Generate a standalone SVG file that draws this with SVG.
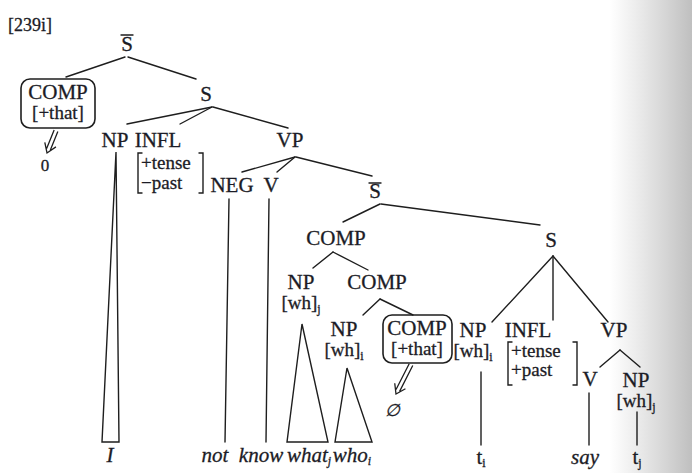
<svg xmlns="http://www.w3.org/2000/svg" width="692" height="473" viewBox="0 0 692 473" font-family="Liberation Serif, serif">
<defs>
<linearGradient id="scan" x1="0" y1="0" x2="1" y2="0">
<stop offset="0" stop-color="#c0c0c0" stop-opacity="0"/>
<stop offset="1" stop-color="#b8b8b8" stop-opacity="0.9"/>
</linearGradient>
<style>
text{font-family:'Liberation Serif',serif}
.t{font-size:21px;fill:#1c1c26;text-anchor:middle;stroke:#1c1c26;stroke-width:0.3}
.f{font-size:19px;text-anchor:start}
.w{font-size:19px}
.i{font-style:italic}
.sub{font-size:12px}
.ln{stroke:#1e1e1e;stroke-width:1.4;fill:none;stroke-linecap:round}
.box{fill:none;stroke:#1e1e1e;stroke-width:1.6}
.ar{stroke:#1e1e1e;stroke-width:1.3;fill:none}
</style>
</defs>
<rect width="692" height="473" fill="#ffffff"/>
<rect x="610" y="0" width="82" height="473" fill="url(#scan)"/>

<g id="connectors">
<line class="ln" x1="125" y1="57" x2="66" y2="77"/>
<line class="ln" x1="128" y1="57" x2="196" y2="79"/>
<line class="ln" x1="212" y1="107" x2="127" y2="124"/>
<line class="ln" x1="212" y1="107" x2="180" y2="124"/>
<line class="ln" x1="213" y1="107" x2="288" y2="128"/>
<line class="ln" x1="295" y1="157" x2="242" y2="172"/>
<line class="ln" x1="295" y1="157" x2="277" y2="172"/>
<line class="ln" x1="296" y1="157" x2="372" y2="176"/>
<line class="ln" x1="380" y1="204" x2="343" y2="222"/>
<line class="ln" x1="381" y1="204" x2="540" y2="225"/>
<line class="ln" x1="333" y1="252" x2="313" y2="268"/>
<line class="ln" x1="333" y1="252" x2="368" y2="270"/>
<line class="ln" x1="380" y1="299" x2="363" y2="315"/>
<line class="ln" x1="380" y1="299" x2="413" y2="315"/>
<line class="ln" x1="553" y1="256" x2="492" y2="322"/>
<line class="ln" x1="553" y1="256" x2="553" y2="320"/>
<line class="ln" x1="553" y1="256" x2="608" y2="322"/>
<line class="ln" x1="620" y1="350" x2="600" y2="367"/>
<line class="ln" x1="620" y1="350" x2="640" y2="367"/>
<path class="ln" d="M116,152 L102,442 H119 Z"/>
<line class="ln" x1="229" y1="199" x2="225" y2="442"/>
<line class="ln" x1="269" y1="199" x2="266" y2="442"/>
<path class="ln" d="M302,324 L287,442 H328 Z"/>
<path class="ln" d="M347,368 L335,442 H372 Z"/>
<line class="ln" x1="481" y1="372" x2="481" y2="445"/>
<line class="ln" x1="589" y1="393" x2="589" y2="445"/>
<line class="ln" x1="637" y1="412" x2="637" y2="445"/>
<g transform="translate(47,153) rotate(22)"><path class="ar" d="M-2,-24 V-4 M2,-24 V-4 M-6,-9 L0,0 L6,-9"/></g>
<g transform="translate(396,394) rotate(27)"><path class="ar" d="M-2,-33 V-4 M2,-33 V-4 M-6,-9 L0,0 L6,-9"/></g>
</g>

<g id="title"><text class="t" x="8" y="31" style="text-anchor:start;font-size:18px">[239i]</text></g>
<g id="sbar1"><text class="t" x="127" y="51">S</text><line class="ln" x1="121" y1="35" x2="133" y2="35"/></g>
<g id="comp1"><rect class="box" x="21" y="79" width="74" height="49" rx="9"/><text class="t" x="58" y="99">COMP</text><text class="t w" x="58" y="119">[+that]</text></g>
<g id="zero"><text class="t" x="45" y="171" style="font-size:17px">0</text></g>
<g id="s1"><text class="t" x="206" y="101">S</text></g>
<g id="np1"><text class="t" x="115" y="147">NP</text></g>
<g id="infl1"><text class="t" x="158" y="147">INFL</text>
<path class="ln" d="M142,153 H138 V193 H142 M199,153 H203 V193 H199"/>
<text class="t f" x="141" y="169">+tense</text><text class="t f" x="141" y="189">−past</text></g>
<g id="neg"><text class="t" x="232" y="192">NEG</text></g>
<g id="v1"><text class="t" x="271" y="192">V</text></g>
<g id="vp1"><text class="t" x="290" y="147">VP</text></g>
<g id="sbar2"><text class="t" x="375" y="198">S</text><line class="ln" x1="369" y1="183" x2="381" y2="183"/></g>
<g id="comp2"><text class="t" x="336" y="245">COMP</text></g>
<g id="np2"><text class="t" x="301" y="289">NP</text><text class="t w" x="301" y="309">[wh]<tspan class="sub" dy="4">j</tspan></text></g>
<g id="comp3"><text class="t" x="377" y="289">COMP</text></g>
<g id="np3"><text class="t" x="344" y="336">NP</text><text class="t w" x="344" y="356">[wh]<tspan class="sub" dy="4">i</tspan></text></g>
<g id="comp4"><rect class="box" x="383" y="315" width="69" height="48" rx="9"/><text class="t" x="417" y="335">COMP</text><text class="t w" x="417" y="355">[+that]</text></g>
<g id="empty"><text class="t i" x="392" y="416" style="font-size:17px">∅</text></g>
<g id="s2"><text class="t" x="551" y="247">S</text></g>
<g id="np4"><text class="t" x="473" y="337">NP</text><text class="t w" x="473" y="357">[wh]<tspan class="sub" dy="4">i</tspan></text></g>
<g id="infl2"><text class="t" x="528" y="337">INFL</text>
<path class="ln" d="M512,342 H508 V385 H512 M573,342 H577 V385 H573"/>
<text class="t f" x="511" y="357">+tense</text><text class="t f" x="511" y="376">+past</text></g>
<g id="vp2"><text class="t" x="614" y="337">VP</text></g>
<g id="v2"><text class="t" x="590" y="386">V</text></g>
<g id="np5"><text class="t" x="636" y="387">NP</text><text class="t w" x="636" y="407">[wh]<tspan class="sub" dy="4">j</tspan></text></g>

<g id="leaf-I"><text class="t i" x="110" y="462">I</text></g>
<g id="leaf-not"><text class="t i" x="215" y="462">not</text></g>
<g id="leaf-know"><text class="t i" x="261" y="462">know</text></g>
<g id="leaf-what"><text class="t i" x="309" y="462">what<tspan class="sub" dy="3">j</tspan></text></g>
<g id="leaf-who"><text class="t i" x="352" y="462">who<tspan class="sub" dy="3">i</tspan></text></g>
<g id="leaf-ti"><text class="t" x="481" y="464">t<tspan class="sub" dy="3">i</tspan></text></g>
<g id="leaf-say"><text class="t i" x="585" y="464">say</text></g>
<g id="leaf-tj"><text class="t" x="637" y="464">t<tspan class="sub" dy="3">j</tspan></text></g>
</svg>
